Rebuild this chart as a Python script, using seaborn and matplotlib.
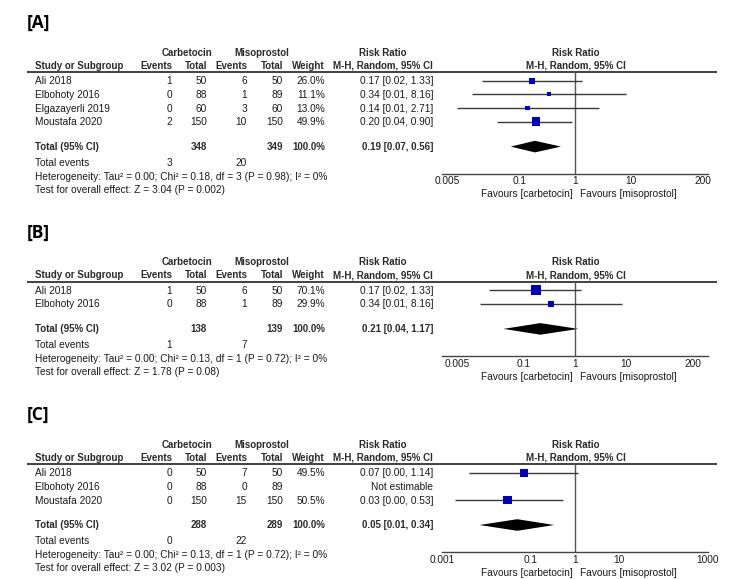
import numpy as np
import matplotlib
matplotlib.use("Agg")
import matplotlib.pyplot as plt
from matplotlib.ticker import NullLocator
import seaborn as sns

# ---------------- data ----------------
# Panel A
a_studies = ["Ali 2018", "Elbohoty 2016", "Elgazayerli 2019", "Moustafa 2020"]
a_carb_events = [1, 0, 0, 2]
a_carb_total = [50, 88, 60, 150]
a_miso_events = [6, 1, 3, 10]
a_miso_total = [50, 89, 60, 150]
a_weight = [26.0, 11.1, 13.0, 49.9]
a_rr = [0.17, 0.34, 0.14, 0.20]
a_lo = [0.021, 0.014, 0.0075, 0.04]
a_hi = [1.33, 8.16, 2.71, 0.90]
a_tot_n = [348, 349]
a_tot_events = [3, 20]
a_pooled = [0.19, 0.07, 0.56]
a_het = "Heterogeneity: Tau² = 0.00; Chi² = 0.18, df = 3 (P = 0.98); I² = 0%"
a_test = "Test for overall effect: Z = 3.04 (P = 0.002)"
a_ticks = [0.005, 0.1, 1, 10, 200]

# Panel B
b_studies = ["Ali 2018", "Elbohoty 2016"]
b_carb_events = [1, 0]
b_carb_total = [50, 88]
b_miso_events = [6, 1]
b_miso_total = [50, 89]
b_weight = [70.1, 29.9]
b_rr = [0.17, 0.34]
b_lo = [0.021, 0.014]
b_hi = [1.33, 8.16]
b_tot_n = [138, 139]
b_tot_events = [1, 7]
b_pooled = [0.21, 0.04, 1.17]
b_het = "Heterogeneity: Tau² = 0.00; Chi² = 0.13, df = 1 (P = 0.72); I² = 0%"
b_test = "Test for overall effect: Z = 1.78 (P = 0.08)"
b_ticks = [0.005, 0.1, 1, 10, 200]

# Panel C
c_studies = ["Ali 2018", "Elbohoty 2016", "Moustafa 2020"]
c_carb_events = [0, 0, 0]
c_carb_total = [50, 88, 150]
c_miso_events = [7, 0, 15]
c_miso_total = [50, 89, 150]
c_weight = [49.5, np.nan, 50.5]
c_rr = [0.07, np.nan, 0.03]
c_lo = [0.004, np.nan, 0.002]
c_hi = [1.14, np.nan, 0.53]
c_tot_n = [288, 289]
c_tot_events = [0, 22]
c_pooled = [0.05, 0.007, 0.34]
c_het = "Heterogeneity: Tau² = 0.00; Chi² = 0.13, df = 1 (P = 0.72); I² = 0%"
c_test = "Test for overall effect: Z = 3.02 (P = 0.003)"
c_ticks = [0.001, 0.1, 1, 10, 1000]

panels = [
    dict(label="[A]", studies=a_studies, ce=a_carb_events, ct=a_carb_total,
         me=a_miso_events, mt=a_miso_total, w=a_weight, rr=a_rr, lo=a_lo, hi=a_hi,
         tot_n=a_tot_n, tot_ev=a_tot_events, pooled=a_pooled, het=a_het,
         test=a_test, ticks=a_ticks, line_y=72, span=2.39),
    dict(label="[B]", studies=b_studies, ce=b_carb_events, ct=b_carb_total,
         me=b_miso_events, mt=b_miso_total, w=b_weight, rr=b_rr, lo=b_lo, hi=b_hi,
         tot_n=b_tot_n, tot_ev=b_tot_events, pooled=b_pooled, het=b_het,
         test=b_test, ticks=b_ticks, line_y=281.5, span=2.6),
    dict(label="[C]", studies=c_studies, ce=c_carb_events, ct=c_carb_total,
         me=c_miso_events, mt=c_miso_total, w=c_weight, rr=c_rr, lo=c_lo, hi=c_hi,
         tot_n=c_tot_n, tot_ev=c_tot_events, pooled=c_pooled, het=c_het,
         test=c_test, ticks=c_ticks, line_y=464, span=3.0),
]

# ---------------- style ----------------
sns.set_style("white")
plt.rcParams["font.family"] = ["Liberation Sans", "DejaVu Sans"]
FS = 7.3
FSB = 7.0
TXT = "#1a1a1a"
HDR = "#2a2a2a"
BLUE = "#0000c0"

W, H = 750, 579
fig = plt.figure(figsize=(W / 100, H / 100), dpi=100)
ov = fig.add_axes([0, 0, 1, 1])
ov.set_xlim(0, W)
ov.set_ylim(H, 0)
ov.axis("off")

# column layout (pixels)
X_STUDY = 35
X_CE, X_CT, X_ME, X_MT, X_W, X_RR = 172, 207, 247, 283, 325, 433
X_F0, X_F1 = 442, 708
X_ONE = (X_F0 + X_F1) / 2
PITCH = 13.6


def fmt_ci(est, lo, hi):
    return f"{est:.2f} [{lo:.2f}, {hi:.2f}]"


for p in panels:
    ly = p["line_y"]
    n = len(p["studies"])
    row_b = [ly + 12.3 + i * PITCH for i in range(n)]   # text baselines
    tot_b = row_b[-1] + 24.5
    ev_b = tot_b + 16.5
    het_b = ev_b + 13.4
    test_b = het_b + 13.5
    axis_y = tot_b + 24.3
    fav_b = axis_y + 23.4
    h1, h2 = ly - 16.3, ly - 3

    ov.text(27, ly - 49, p["label"], fontsize=12.5, fontweight="bold",
            family=["Open Sans", "DejaVu Sans"], va="center", ha="left", color="black")

    hk = dict(fontsize=FSB, fontweight="bold", color=HDR, va="baseline")
    ov.text((X_CE + X_CT) / 2 - 3, h1, "Carbetocin", ha="center", **hk)
    ov.text((X_ME + X_MT) / 2 - 3, h1, "Misoprostol", ha="center", **hk)
    ov.text(383, h1, "Risk Ratio", ha="center", **hk)
    ov.text(X_ONE + 1, h1, "Risk Ratio", ha="center", **hk)
    ov.text(X_STUDY, h2, "Study or Subgroup", ha="left", **hk)
    for x, t in [(X_CE, "Events"), (X_CT, "Total"), (X_ME, "Events"),
                 (X_MT, "Total"), (X_W, "Weight"), (X_RR, "M-H, Random, 95% CI")]:
        ov.text(x, h2, t, ha="right", **hk)
    ov.text(X_ONE + 1, h2, "M-H, Random, 95% CI", ha="center", **hk)
    ov.plot([27, 717], [ly, ly], color="#333333", lw=1.3, solid_capstyle="butt")

    tk = dict(fontsize=FS, color=TXT, va="baseline")
    for i in range(n):
        y = row_b[i]
        ov.text(X_STUDY, y, p["studies"][i], ha="left", **tk)
        ov.text(X_CE, y, str(p["ce"][i]), ha="right", **tk)
        ov.text(X_CT, y, str(p["ct"][i]), ha="right", **tk)
        ov.text(X_ME, y, str(p["me"][i]), ha="right", **tk)
        ov.text(X_MT, y, str(p["mt"][i]), ha="right", **tk)
        w = p["w"][i]
        if np.isfinite(w):
            ov.text(X_W, y, f"{w:.1f}%", ha="right", **tk)
            ov.text(X_RR, y, fmt_ci(p["rr"][i], p["lo"][i], p["hi"][i]), ha="right", **tk)
        else:
            ov.text(X_RR, y, "Not estimable", ha="right", **tk)

    bk = dict(fontsize=FSB, fontweight="bold", color=HDR, va="baseline")
    ov.text(X_STUDY, tot_b, "Total (95% CI)", ha="left", **bk)
    ov.text(X_CT, tot_b, str(p["tot_n"][0]), ha="right", **bk)
    ov.text(X_MT, tot_b, str(p["tot_n"][1]), ha="right", **bk)
    ov.text(X_W, tot_b, "100.0%", ha="right", **bk)
    ov.text(X_RR, tot_b, fmt_ci(*p["pooled"]), ha="right", **bk)

    ov.text(X_STUDY, ev_b, "Total events", ha="left", **tk)
    ov.text(X_CE, ev_b, str(p["tot_ev"][0]), ha="right", **tk)
    ov.text(X_ME, ev_b, str(p["tot_ev"][1]), ha="right", **tk)
    ov.text(X_STUDY, het_b, p["het"], ha="left", **tk)
    ov.text(X_STUDY, test_b, p["test"], ha="left", **tk)

    ov.text(X_ONE - 2, fav_b, "Favours [carbetocin]", ha="right", **tk)
    ov.text(X_ONE + 5, fav_b, "Favours [misoprostol]", ha="left", **tk)

    # forest axes (y in pixel units, inverted)
    rect = [X_F0 / W, 1 - axis_y / H, (X_F1 - X_F0) / W, (axis_y - ly) / H]
    fax = fig.add_axes(rect)
    fax.patch.set_alpha(0)
    fax.set_xscale("log")
    fax.set_xlim(10 ** -p["span"] * 0.999, 10 ** p["span"] * 1.001)
    fax.set_ylim(axis_y, ly)
    for s in ["top", "left", "right"]:
        fax.spines[s].set_visible(False)
    fax.spines["bottom"].set_color("#444444")
    fax.spines["bottom"].set_linewidth(1.0)
    fax.set_yticks([])
    fax.set_xticks(p["ticks"])
    fax.set_xticklabels([f"{t:g}" for t in p["ticks"]])
    fax.xaxis.set_minor_locator(NullLocator())
    fax.tick_params(axis="x", direction="inout", length=6, width=1.0,
                    color="#444444", pad=-1.2, labelsize=FS, labelcolor=TXT)
    fax.axvline(1, color="#555555", lw=1.0)

    rr = np.array(p["rr"], dtype=float)
    lo = np.array(p["lo"], dtype=float)
    hi = np.array(p["hi"], dtype=float)
    wt = np.array(p["w"], dtype=float)
    ys = np.array(row_b) - 3.6
    ok = np.isfinite(rr)
    fax.hlines(ys[ok], lo[ok], hi[ok], color="#3a3a3a", lw=1.0)
    sizes = (1.18 * np.sqrt(wt[ok]) * 0.72) ** 2
    sns.scatterplot(x=rr[ok], y=ys[ok], marker="s", s=sizes, color=BLUE,
                    edgecolor="none", linewidth=0, ax=fax, legend=False, zorder=3)
    est, plo, phi = p["pooled"]
    yc = tot_b - 3.0
    fax.fill([plo, est, phi, est], [yc, yc - 5.8, yc, yc + 5.8],
             color="black", lw=0)
    fax.set_xlabel("")
    fax.set_ylabel("")

fig.savefig("out.png", dpi=100, facecolor="white")
